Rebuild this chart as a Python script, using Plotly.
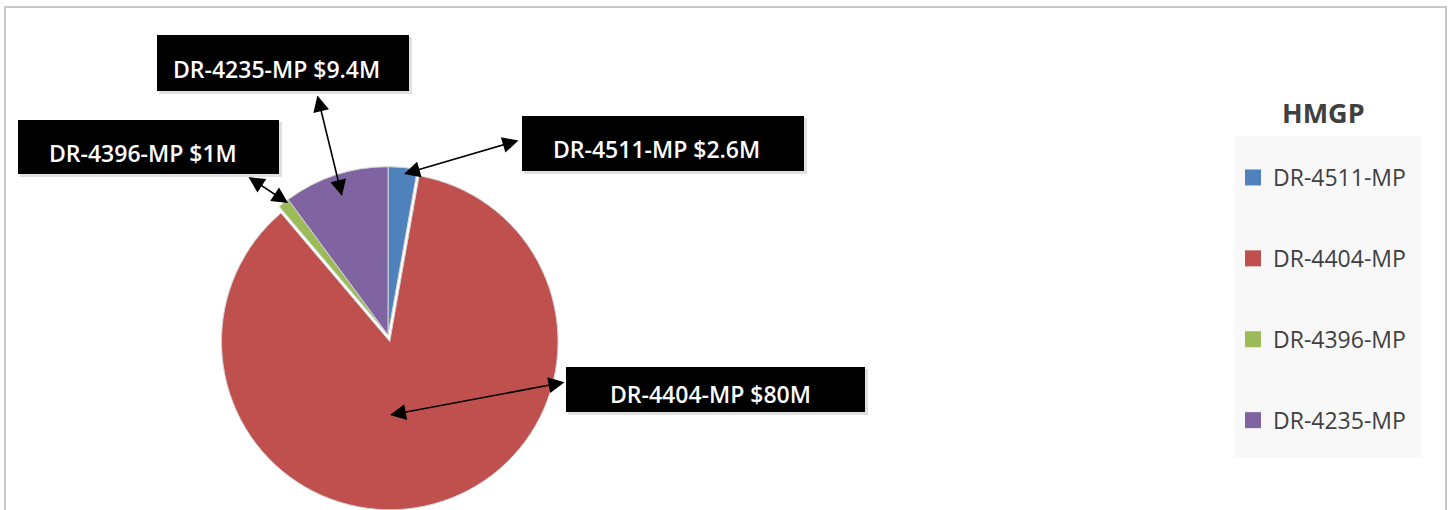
import plotly.graph_objects as go

W, H = 1451, 510

# ---- data ----
labels = ["DR-4511-MP", "DR-4404-MP", "DR-4396-MP", "DR-4235-MP"]
values = [2.6, 80, 1, 9.4]
value_text = ["$2.6M", "$80M", "$1M", "$9.4M"]
colors = ["#4f81bd", "#c0504d", "#9bbb59", "#8064a2"]
pulls = [0, 0.04, 0, 0]
legend_title = "HMGP"


def px(x):
    return x / W


def py(y):
    return 1 - y / H


fig = go.Figure()

fig.add_trace(go.Pie(
    labels=labels,
    values=values,
    marker=dict(colors=colors, line=dict(color="#d4d4d4", width=1)),
    sort=False,
    direction="clockwise",
    rotation=0,
    pull=pulls,
    textinfo="none",
    showlegend=False,
    domain=dict(x=[px(213), px(563)], y=[0, py(160)]),
    hovertemplate="%{label}: %{value}M<extra></extra>",
))

# legend entries (one group each so they can be spaced apart)
for lab, col in zip(labels, colors):
    fig.add_trace(go.Scatter(
        x=[None], y=[None], mode="markers", name=lab,
        legendgroup=lab,
        marker=dict(symbol="square", size=16, color=col),
    ))

shapes = []
# outer frame
shapes.append(dict(type="rect", xref="paper", yref="paper",
                   x0=px(5), x1=px(1446), y0=py(560), y1=py(7),
                   line=dict(color="#c9c9c9", width=2), fillcolor="rgba(0,0,0,0)",
                   layer="below"))
# legend background
shapes.append(dict(type="rect", xref="paper", yref="paper",
                   x0=px(1234), x1=px(1422), y0=py(458), y1=py(136),
                   line=dict(width=0), fillcolor="#f8f8f8", layer="below"))

# callout boxes: (x0, y0, x1, y1) in pixels, text center
callouts = [
    (522, 116, 804, 171, 656, 149),   # DR-4511
    (566, 367, 865, 412, 710, 394),   # DR-4404
    (18, 120, 279, 174, 143, 153),    # DR-4396
    (157, 35, 409, 91, 276, 69),      # DR-4235
]
annotations = []
for i, (x0, y0, x1, y1, tx, ty) in enumerate(callouts):
    # subtle shadow
    shapes.append(dict(type="rect", xref="paper", yref="paper",
                       x0=px(x0 + 2), x1=px(x1 + 3), y0=py(y1 + 3), y1=py(y0 + 2),
                       line=dict(width=0), fillcolor="rgba(0,0,0,0.12)", layer="above"))
    shapes.append(dict(type="rect", xref="paper", yref="paper",
                       x0=px(x0), x1=px(x1), y0=py(y1), y1=py(y0),
                       line=dict(width=0), fillcolor="#000000", layer="above"))
    annotations.append(dict(
        xref="paper", yref="paper", x=px(tx), y=py(ty),
        text=f"{labels[i]} {value_text[i]}", showarrow=False,
        font=dict(family="Open Sans", size=23, color="white", weight=600),
        xanchor="center", yanchor="middle",
    ))

# double-headed arrows: head (on slice) and tail (at box)
arrows = [
    ((404, 174), (520, 140)),
    ((390, 415), (566, 382)),
    ((288, 203), (247, 176)),
    ((342, 196), (317, 94)),
]
for (hx, hy), (tx, ty) in arrows:
    annotations.append(dict(
        xref="paper", yref="paper", x=px(hx), y=py(hy),
        ax=tx - hx, ay=ty - hy, axref="pixel", ayref="pixel",
        text="", showarrow=True, arrowhead=2, startarrowhead=2,
        arrowside="end+start", arrowsize=2, startarrowsize=2,
        arrowwidth=1.6, arrowcolor="black", standoff=0, startstandoff=0,
    ))

# legend title
annotations.append(dict(
    xref="paper", yref="paper", x=px(1323), y=py(112), text=legend_title,
    showarrow=False, xanchor="center", yanchor="middle",
    font=dict(family="Open Sans", size=27, color="#404040", weight="bold"),
))

fig.update_layout(
    width=W, height=H,
    margin=dict(l=0, r=0, t=0, b=0),
    paper_bgcolor="white", plot_bgcolor="white",
    xaxis=dict(visible=False), yaxis=dict(visible=False),
    shapes=shapes, annotations=annotations,
    showlegend=True,
    legend=dict(
        x=px(1233), y=py(156), xanchor="left", yanchor="top",
        bgcolor="rgba(0,0,0,0)", tracegroupgap=48,
        font=dict(family="Open Sans", size=23, color="#404040"),
        itemclick=False, itemdoubleclick=False,
    ),
)

fig.write_html(
    "out.html",
    config={"displayModeBar": False},
    post_script="document.body.style.margin='0';document.body.style.overflow='hidden';",
)
